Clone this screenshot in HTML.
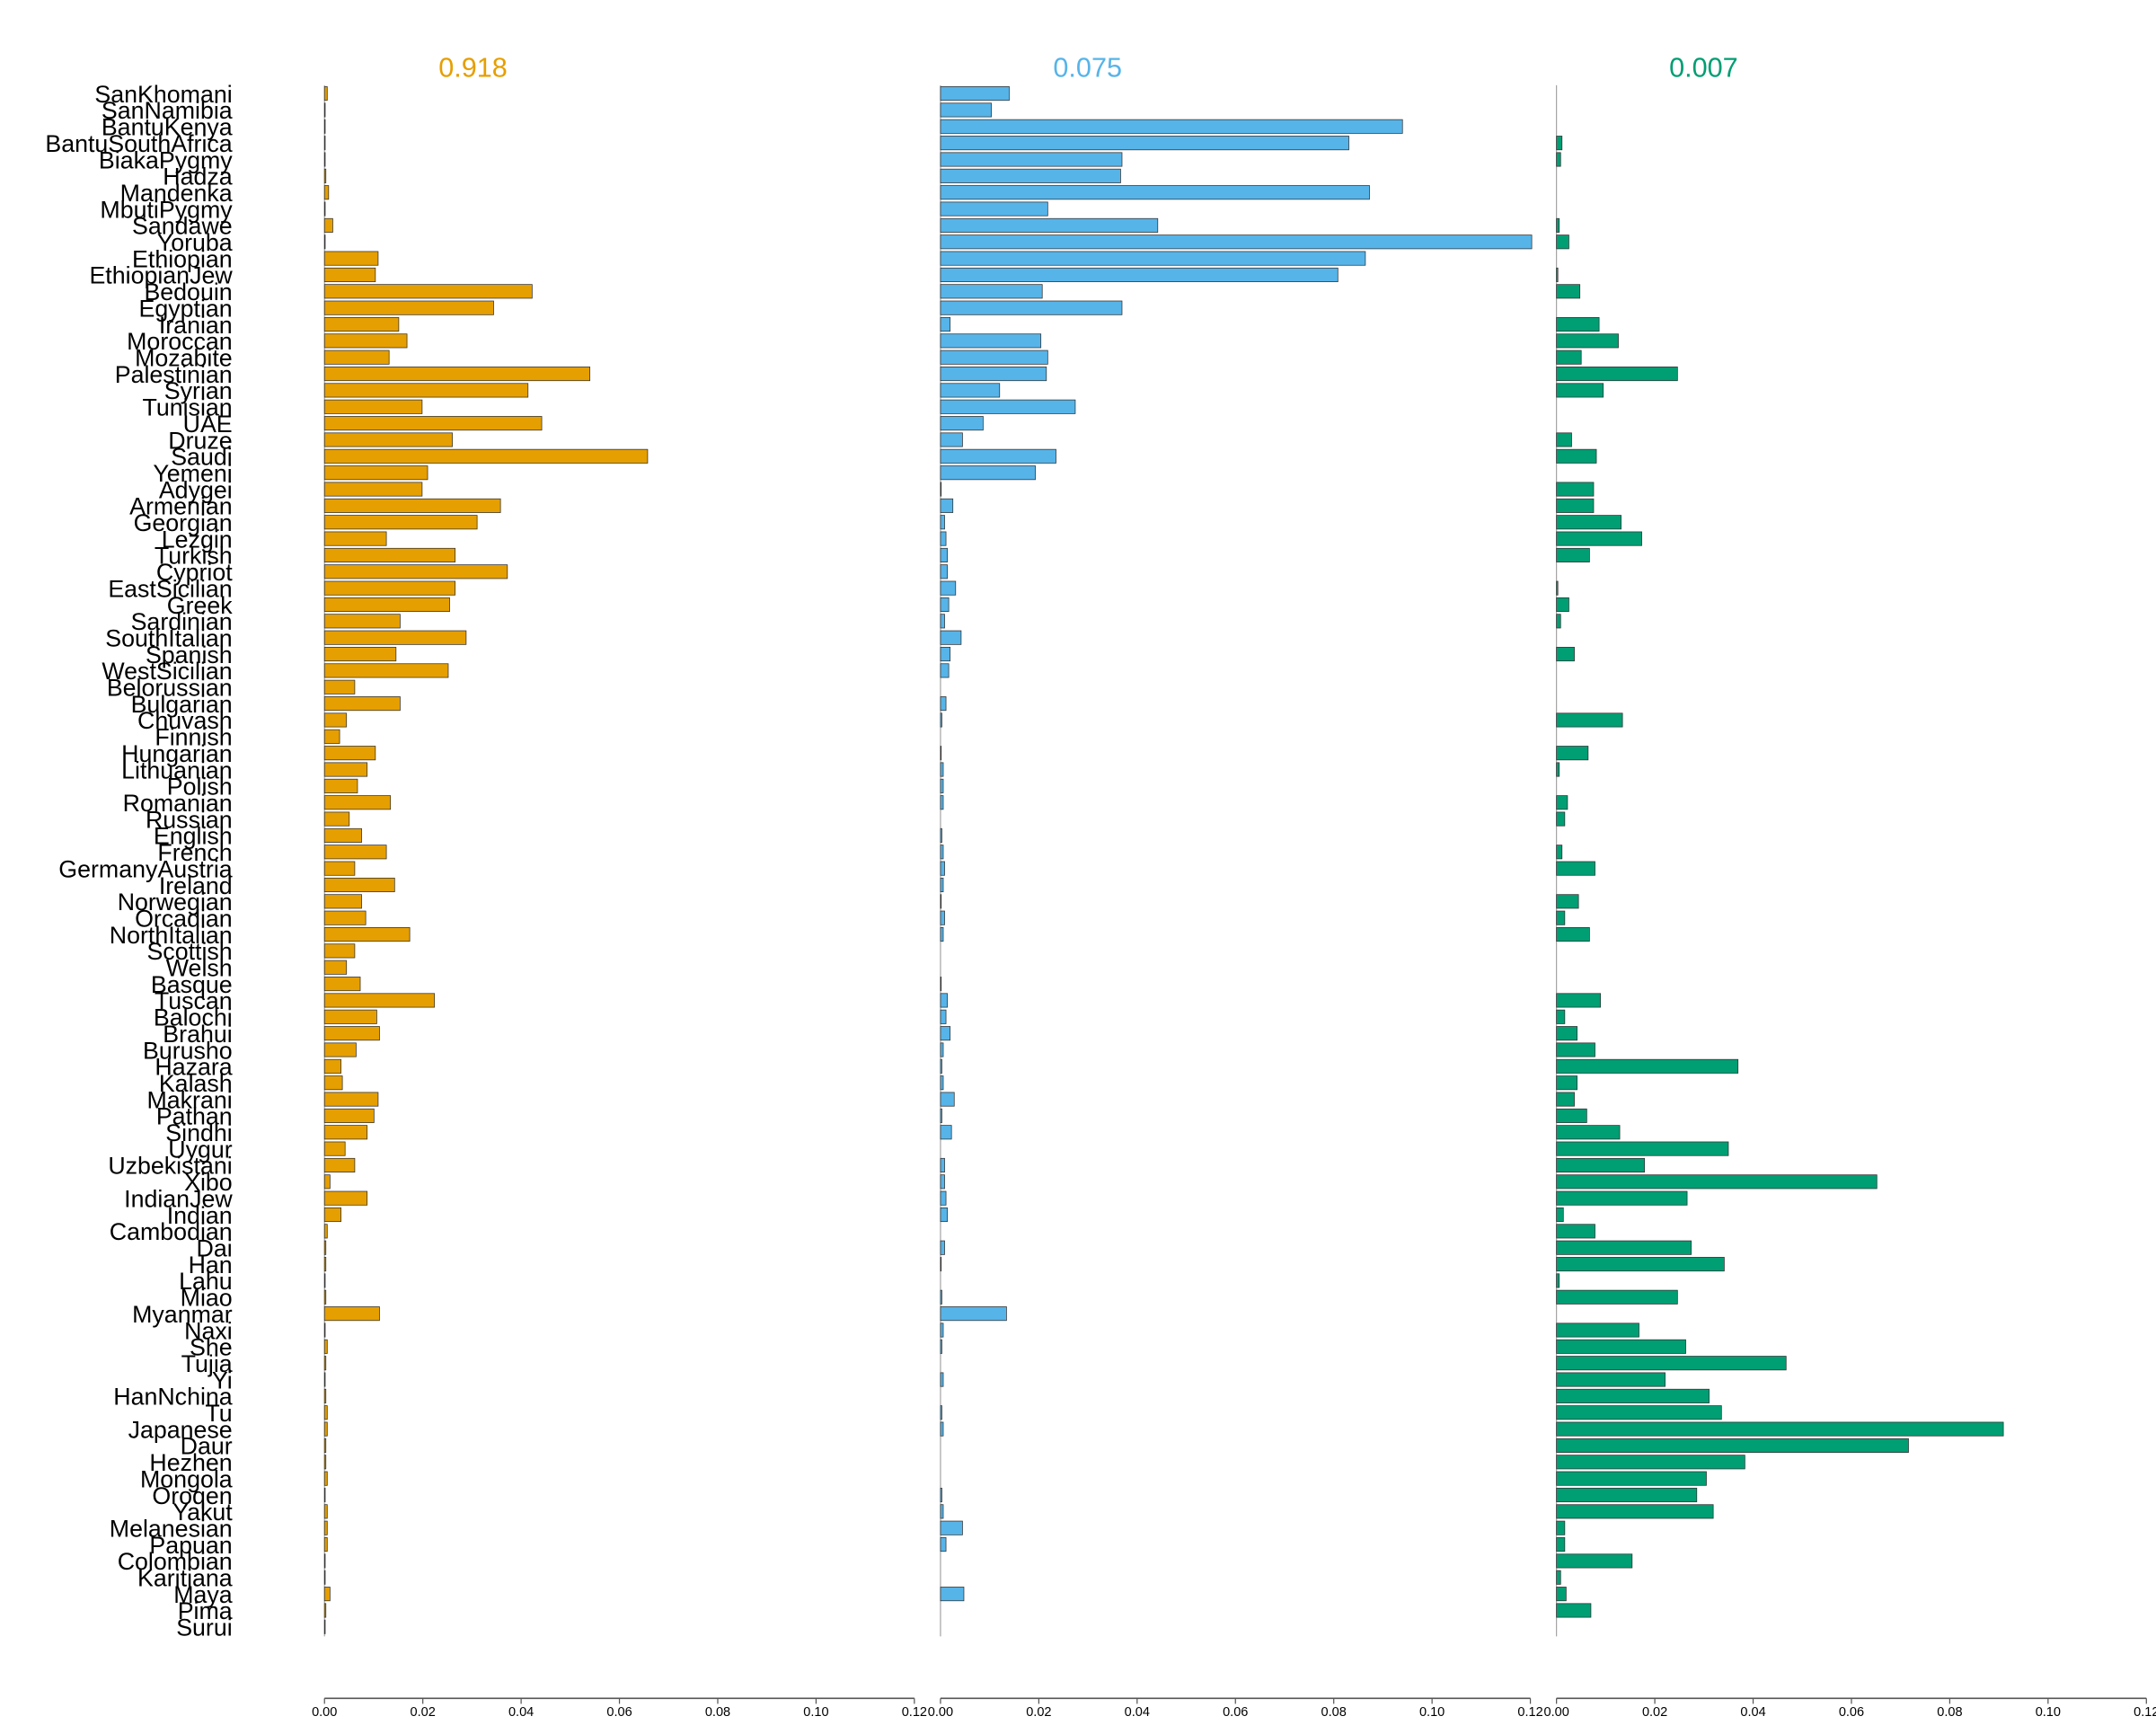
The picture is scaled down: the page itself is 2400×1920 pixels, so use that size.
<!DOCTYPE html>
<html><head><meta charset="utf-8"><style>
html,body{margin:0;padding:0;background:#fff;}
svg{display:block;}
text{font-family:"Liberation Sans",sans-serif;}
</style></head><body>
<svg id="s" width="2400" height="1920" viewBox="0 0 1568 1254.4" xmlns="http://www.w3.org/2000/svg">
<rect width="1568" height="1254.4" fill="#fff"/>
<text x="344" y="56" font-size="20" fill="#E69F00" text-anchor="middle">0.918</text>
<text x="791" y="56" font-size="20" fill="#56B4E9" text-anchor="middle">0.075</text>
<text x="1239" y="56" font-size="20" fill="#009E73" text-anchor="middle">0.007</text>
<text font-size="17.5" fill="#000" text-anchor="end" y="62.4">
<tspan x="169" dy="11.99">SanKhomani</tspan><tspan x="169" dy="11.99">SanNamibia</tspan><tspan x="169" dy="11.99">BantuKenya</tspan><tspan x="169" dy="11.99">BantuSouthAfrica</tspan><tspan x="169" dy="11.99">BiakaPygmy</tspan><tspan x="169" dy="11.99">Hadza</tspan><tspan x="169" dy="11.99">Mandenka</tspan><tspan x="169" dy="11.99">MbutiPygmy</tspan><tspan x="169" dy="11.99">Sandawe</tspan><tspan x="169" dy="11.99">Yoruba</tspan><tspan x="169" dy="11.99">Ethiopian</tspan><tspan x="169" dy="11.99">EthiopianJew</tspan><tspan x="169" dy="11.99">Bedouin</tspan><tspan x="169" dy="11.99">Egyptian</tspan><tspan x="169" dy="11.99">Iranian</tspan><tspan x="169" dy="11.99">Moroccan</tspan><tspan x="169" dy="11.99">Mozabite</tspan><tspan x="169" dy="11.99">Palestinian</tspan><tspan x="169" dy="11.99">Syrian</tspan><tspan x="169" dy="11.99">Tunisian</tspan><tspan x="169" dy="11.99">UAE</tspan><tspan x="169" dy="11.99">Druze</tspan><tspan x="169" dy="11.99">Saudi</tspan><tspan x="169" dy="11.99">Yemeni</tspan><tspan x="169" dy="11.99">Adygei</tspan><tspan x="169" dy="11.99">Armenian</tspan><tspan x="169" dy="11.99">Georgian</tspan><tspan x="169" dy="11.99">Lezgin</tspan><tspan x="169" dy="11.99">Turkish</tspan><tspan x="169" dy="11.99">Cypriot</tspan><tspan x="169" dy="11.99">EastSicilian</tspan><tspan x="169" dy="11.99">Greek</tspan><tspan x="169" dy="11.99">Sardinian</tspan><tspan x="169" dy="11.99">SouthItalian</tspan><tspan x="169" dy="11.99">Spanish</tspan><tspan x="169" dy="11.99">WestSicilian</tspan><tspan x="169" dy="11.99">Belorussian</tspan><tspan x="169" dy="11.99">Bulgarian</tspan><tspan x="169" dy="11.99">Chuvash</tspan><tspan x="169" dy="11.99">Finnish</tspan><tspan x="169" dy="11.99">Hungarian</tspan><tspan x="169" dy="11.99">Lithuanian</tspan><tspan x="169" dy="11.99">Polish</tspan><tspan x="169" dy="11.99">Romanian</tspan><tspan x="169" dy="11.99">Russian</tspan><tspan x="169" dy="11.99">English</tspan><tspan x="169" dy="11.99">French</tspan><tspan x="169" dy="11.99">GermanyAustria</tspan><tspan x="169" dy="11.99">Ireland</tspan><tspan x="169" dy="11.99">Norwegian</tspan><tspan x="169" dy="11.99">Orcadian</tspan><tspan x="169" dy="11.99">NorthItalian</tspan><tspan x="169" dy="11.99">Scottish</tspan><tspan x="169" dy="11.99">Welsh</tspan><tspan x="169" dy="11.99">Basque</tspan><tspan x="169" dy="11.99">Tuscan</tspan><tspan x="169" dy="11.99">Balochi</tspan><tspan x="169" dy="11.99">Brahui</tspan><tspan x="169" dy="11.99">Burusho</tspan><tspan x="169" dy="11.99">Hazara</tspan><tspan x="169" dy="11.99">Kalash</tspan><tspan x="169" dy="11.99">Makrani</tspan><tspan x="169" dy="11.99">Pathan</tspan><tspan x="169" dy="11.99">Sindhi</tspan><tspan x="169" dy="11.99">Uygur</tspan><tspan x="169" dy="11.99">Uzbekistani</tspan><tspan x="169" dy="11.99">Xibo</tspan><tspan x="169" dy="11.99">IndianJew</tspan><tspan x="169" dy="11.99">Indian</tspan><tspan x="169" dy="11.99">Cambodian</tspan><tspan x="169" dy="11.99">Dai</tspan><tspan x="169" dy="11.99">Han</tspan><tspan x="169" dy="11.99">Lahu</tspan><tspan x="169" dy="11.99">Miao</tspan><tspan x="169" dy="11.99">Myanmar</tspan><tspan x="169" dy="11.99">Naxi</tspan><tspan x="169" dy="11.99">She</tspan><tspan x="169" dy="11.99">Tujia</tspan><tspan x="169" dy="11.99">Yi</tspan><tspan x="169" dy="11.99">HanNchina</tspan><tspan x="169" dy="11.99">Tu</tspan><tspan x="169" dy="11.99">Japanese</tspan><tspan x="169" dy="11.99">Daur</tspan><tspan x="169" dy="11.99">Hezhen</tspan><tspan x="169" dy="11.99">Mongola</tspan><tspan x="169" dy="11.99">Oroqen</tspan><tspan x="169" dy="11.99">Yakut</tspan><tspan x="169" dy="11.99">Melanesian</tspan><tspan x="169" dy="11.99">Papuan</tspan><tspan x="169" dy="11.99">Colombian</tspan><tspan x="169" dy="11.99">Karitiana</tspan><tspan x="169" dy="11.99">Maya</tspan><tspan x="169" dy="11.99">Pima</tspan><tspan x="169" dy="11.99">Surui</tspan>
</text>
<g font-size="9.5" fill="#000" text-anchor="middle">
<text x="236" y="1248">0.00</text><text x="307.5" y="1248">0.02</text><text x="379" y="1248">0.04</text><text x="450.5" y="1248">0.06</text><text x="522" y="1248">0.08</text><text x="593.5" y="1248">0.10</text><text x="665" y="1248">0.12</text>
<text x="684" y="1248">0.00</text><text x="755.5" y="1248">0.02</text><text x="827" y="1248">0.04</text><text x="898.5" y="1248">0.06</text><text x="970" y="1248">0.08</text><text x="1041.5" y="1248">0.10</text><text x="1113" y="1248">0.12</text>
<text x="1132" y="1248">0.00</text><text x="1203.5" y="1248">0.02</text><text x="1275" y="1248">0.04</text><text x="1346.5" y="1248">0.06</text><text x="1418" y="1248">0.08</text><text x="1489.5" y="1248">0.10</text><text x="1561" y="1248">0.12</text>
</g>
<g id="bars"></g>
</svg>
<script>
var P1=[2,.5,.5,.5,.5,1,3,.5,6,.5,39,37,151,123,54,60,47,193,148,71,158,93,235,75,71,128,111,45,95,133,95,91,55,103,52,90,22,55,16,11,37,31,24,48,18,27,45,22,51,27,30,62,22,16,26,80,38,40,23,12,13,39,36,31,15,22,4,31,12,2,1,1,.5,1,40,.5,2,1,.5,1,2,2,1,1,2,.5,2,2,2,.5,.5,4,1,.5];
var P2=[50,37,336,297,132,131,312,78,158,430,309,289,74,132,7,73,78,77,43,98,31,16,84,69,.5,9,3,4,5,5,11,6,3,15,7,6,0,4,1,0,.5,2,2,2,0,1,2,3,2,.5,3,2,0,0,.5,5,4,7,2,1,2,10,1,8,0,3,3,4,5,0,3,.5,0,1,48,2,1,0,2,0,1,2,0,0,0,1,2,16,4,0,0,17,0,0];
var P3=[0,0,0,4,3,0,0,0,2,9,0,1,17,0,31,45,18,88,34,0,0,11,29,0,27,27,47,62,24,0,1,9,3,0,13,0,0,0,48,0,23,2,0,8,6,0,4,28,0,16,6,24,0,0,0,32,6,15,28,132,15,13,22,46,125,64,233,95,5,28,98,122,2,88,0,60,94,167,79,111,120,325,256,137,109,102,114,6,6,55,3,7,25,0];
var g=document.getElementById('bars'),h='';
var panels=[[236,P1,'#E69F00'],[684,P2,'#56B4E9'],[1132,P3,'#009E73']];
panels.forEach(function(p){
 var x0=p[0];
 h+='<line x1="'+x0+'" y1="62" x2="'+x0+'" y2="1190" stroke="#999" stroke-width="0.7"/>';
 h+='<line x1="'+x0+'" y1="1235" x2="'+(x0+429)+'" y2="1235" stroke="#555" stroke-width="1"/>';
 for(var k=0;k<7;k++){var tx=x0+k*71.5;h+='<line x1="'+tx+'" y1="1235" x2="'+tx+'" y2="1239" stroke="#555" stroke-width="0.8"/>';}
 p[1].forEach(function(v,i){ if(v<=0)return; var yc=68+i*11.99;
  h+='<rect x="'+x0+'" y="'+(yc-5).toFixed(2)+'" width="'+v+'" height="10" fill="'+p[2]+'" stroke="#333" stroke-width="0.5"/>';});
});
g.innerHTML=h;
</script>
</body></html>
